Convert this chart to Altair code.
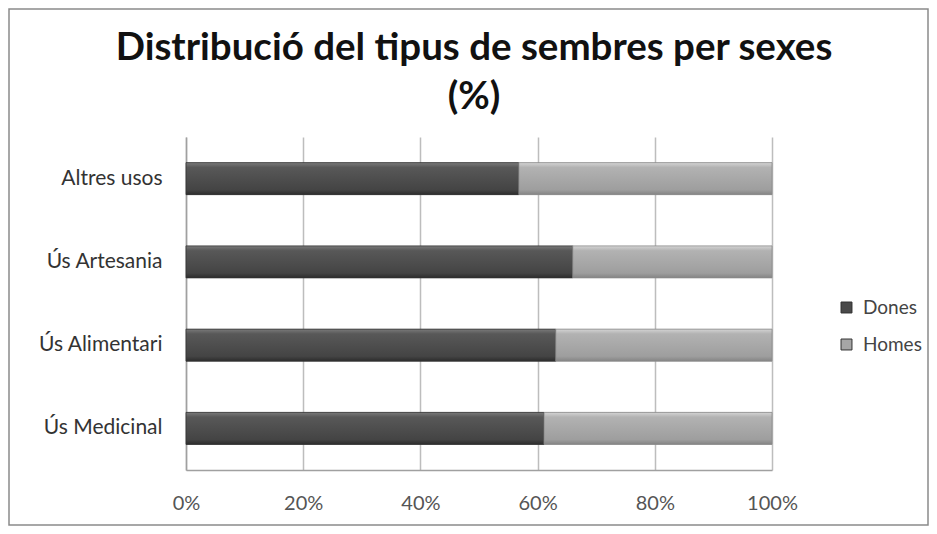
import altair as alt
import pandas as pd

categories = ["Altres usos", "Ús Artesania", "Ús Alimentari", "Ús Medicinal"]
series = ["Dones", "Homes"]
dones = [56.8, 66.0, 63.1, 61.1]
homes = [43.2, 34.0, 36.9, 38.9]
x_ticks = [0, 0.2, 0.4, 0.6, 0.8, 1.0]
title_lines = ["Distribució del tipus de sembres per sexes", "(%)"]

rows = []
for c, d, h in zip(categories, dones, homes):
    rows.append({"cat": c, "sex": series[0], "val": d, "ord": 0})
    rows.append({"cat": c, "sex": series[1], "val": h, "ord": 1})
df = pd.DataFrame(rows)

FONT = "Lato"

base = alt.Chart(df).transform_joinaggregate(
    total="sum(val)", groupby=["cat"]
).transform_calculate(
    pct="datum.val / datum.total"
).transform_stack(
    stack="pct", as_=["x0", "x1"], groupby=["cat"], sort=[alt.SortField("ord")]
)

y_enc = alt.Y("cat:N", sort=categories, title=None,
              axis=alt.Axis(labelFont=FONT, labelFontSize=21, labelColor="#333333",
                            labelPadding=24, ticks=False, domainColor="#a0a0a0",
                            domainWidth=1.5))
x_enc = alt.X("x0:Q", title=None, scale=alt.Scale(domain=[0, 1]),
              axis=alt.Axis(format=".0%", values=x_ticks, grid=True, gridColor="#bdbdbd",
                            gridWidth=1.5, ticks=False, domainColor="#a0a0a0", domainWidth=1.5,
                            labelFont=FONT, labelFontSize=20, labelColor="#555555",
                            labelPadding=23, labelFlush=False))

flat = base.mark_bar(size=32).encode(
    y=y_enc, x=x_enc, x2="x1:Q",
    color=alt.Color("sex:N", scale=alt.Scale(domain=series, range=["#4a4a4a", "#a6a6a6"]),
                    legend=alt.Legend(title=None, orient="none", legendX=651, legendY=161,
                                      symbolType="square", symbolSize=120,
                                      symbolStrokeColor="#333333", symbolStrokeWidth=1,
                                      labelFont=FONT, labelFontSize=19, labelColor="#444444",
                                      rowPadding=17, labelOffset=7)),
)

grad_d = alt.Gradient(gradient="linear", x1=0, x2=0, y1=0, y2=1, stops=[
    alt.GradientStop(offset=0, color="#7a7a7a"),
    alt.GradientStop(offset=0.15, color="#585858"),
    alt.GradientStop(offset=0.85, color="#444444"),
    alt.GradientStop(offset=1, color="#2c2c2c")])
grad_h = alt.Gradient(gradient="linear", x1=0, x2=0, y1=0, y2=1, stops=[
    alt.GradientStop(offset=0, color="#d4d4d4"),
    alt.GradientStop(offset=0.15, color="#b2b2b2"),
    alt.GradientStop(offset=0.85, color="#9e9e9e"),
    alt.GradientStop(offset=1, color="#848484")])

over_d = base.transform_filter(alt.datum.sex == series[0]).mark_bar(
    size=32, color=grad_d, stroke="#333333", strokeWidth=0.8
).encode(y=alt.Y("cat:N", sort=categories), x="x0:Q", x2="x1:Q")
over_h = base.transform_filter(alt.datum.sex == series[1]).mark_bar(
    size=32, color=grad_h, stroke="#8a8a8a", strokeWidth=0.8
).encode(y=alt.Y("cat:N", sort=categories), x="x0:Q", x2="x1:Q")

frame = alt.Chart(pd.DataFrame({"a": [0]})).mark_rect(
    fill="#ffffff", fillOpacity=0, stroke="#8a8a8a", strokeWidth=1.5
).encode(x=alt.value(-177), x2=alt.value(742), y=alt.value(-128), y2=alt.value(388))

title_df = pd.DataFrame({"t": title_lines, "i": [0, 1]})
title1 = alt.Chart(title_df).transform_filter(alt.datum.i == 0).mark_text(
    font=FONT, fontSize=38.5, fontWeight="bold", color="#111111", align="center", baseline="middle"
).encode(text="t:N", x=alt.value(288), y=alt.value(-89))
title2 = alt.Chart(title_df).transform_filter(alt.datum.i == 1).mark_text(
    font=FONT, fontSize=38.5, fontWeight="bold", color="#111111", align="center", baseline="middle"
).encode(text="t:N", x=alt.value(288), y=alt.value(-40))

chart = alt.layer(frame, flat, over_d, over_h, title1, title2).properties(
    width=586, height=333,
    autosize=alt.AutoSizeParams(type="none"),
    padding={"left": 178, "top": 129, "right": 157, "bottom": 56},
).configure_view(strokeWidth=0)

chart.save("out.html", embed_options={"renderer": "svg", "actions": False})
